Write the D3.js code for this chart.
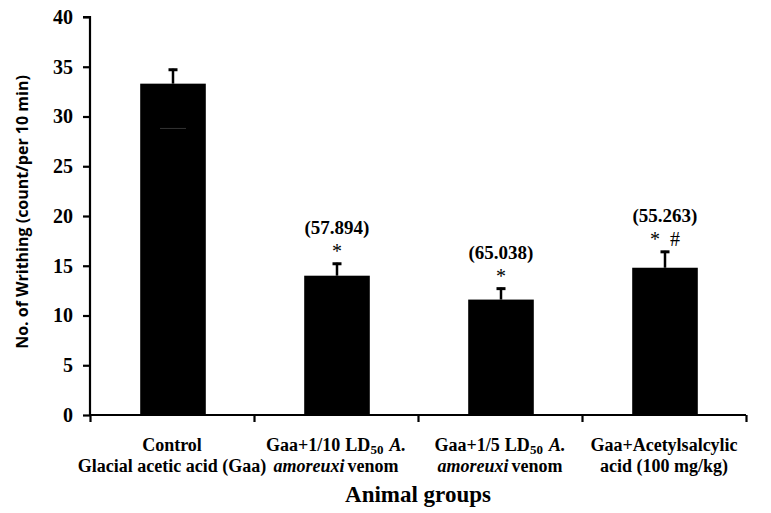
<!DOCTYPE html>
<html>
<head>
<meta charset="utf-8">
<script src="https://cdn.jsdelivr.net/npm/d3@7"></script>
<style>
  body { margin: 0; background: #fff; }
  svg text { fill: #000; }
</style>
</head>
<body>
<svg width="771" height="513"></svg>
<script>
// data
var groups = ["Control", "Gaa+1/10 LD50", "Gaa+1/5 LD50", "Gaa+ASA"];
var means = [33.3, 14.0, 11.6, 14.8];
var errors = [1.5, 1.3, 1.2, 1.7];
var inhibition = ["", "(57.894)", "(65.038)", "(55.263)"];
var marks = ["", "*", "*", "*  #"];
var yTicks = [0, 5, 10, 15, 20, 25, 30, 35, 40];

// label lines, each as [text, italic, subscript, extra gap] segments
var labelLines = [
    [[["Control"]], [["Glacial acetic acid (Gaa)"]]],
    [[["Gaa+1/10"], ["LD", 0, 0, 5], ["50", 0, 1], ["A.", 1, 0, 6]], [["amoreuxi", 1], ["venom", 0, 0, 3]]],
    [[["Gaa+1/5"], ["LD", 0, 0, 5], ["50", 0, 1], ["A.", 1, 0, 6]], [["amoreuxi", 1], ["venom", 0, 0, 3]]],
    [[["Gaa+Acetylsalcylic"]], [["acid (100 mg/kg)"]]]
];

var svg = d3.select("svg"),
    margin = { top: 17, right: 25, bottom: 98, left: 90 },
    width = +svg.attr("width") - margin.left - margin.right,
    height = +svg.attr("height") - margin.top - margin.bottom;

var serif = "'Liberation Serif', 'Times New Roman', serif";

var g = svg.append("g").attr("transform", "translate(" + margin.left + "," + margin.top + ")");

var x = d3.scaleBand().domain(groups).range([0, width]).padding(0);
var xEdge = d3.scaleLinear().domain([0, groups.length]).range([0, width]);
var y = d3.scaleLinear().domain([0, 40]).range([height, 0]);
var barW = x.bandwidth() * 0.4;

// bars
g.selectAll(".bar")
    .data(means)
    .enter().append("rect")
    .attr("class", "bar")
    .attr("x", function (d, i) { return x(groups[i]) + x.bandwidth() / 2 - barW / 2 + 1; })
    .attr("y", function (d) { return y(d); })
    .attr("width", barW)
    .attr("height", function (d) { return height - y(d); })
    .attr("fill", "#000");

// error bars (upper)
var eb = g.selectAll(".err")
    .data(means)
    .enter().append("g")
    .attr("class", "err")
    .attr("transform", function (d, i) { return "translate(" + (x(groups[i]) + x.bandwidth() / 2 + 1) + ",0)"; });

eb.append("line")
    .attr("y1", function (d) { return y(d); })
    .attr("y2", function (d, i) { return y(d + errors[i]); })
    .attr("stroke", "#000")
    .attr("stroke-width", 2.5);

eb.append("line")
    .attr("x1", -4.5).attr("x2", 4.5)
    .attr("y1", function (d, i) { return y(d + errors[i]) + 1; })
    .attr("y2", function (d, i) { return y(d + errors[i]) + 1; })
    .attr("stroke", "#000")
    .attr("stroke-width", 3);

// faint lower whisker visible inside the control bar
eb.filter(function (d, i) { return i === 0; })
    .append("line")
    .attr("x1", -13).attr("x2", 13)
    .attr("y1", function (d) { return y(d - 4.5); })
    .attr("y2", function (d) { return y(d - 4.5); })
    .attr("stroke", "#333")
    .attr("stroke-width", 1);

// annotations
eb.append("text")
    .attr("y", function (d, i) { return y(d + errors[i]) - 29; })
    .attr("text-anchor", "middle")
    .style("font-family", serif)
    .style("font-weight", "bold")
    .style("font-size", "19px")
    .text(function (d, i) { return inhibition[i]; });

eb.append("text")
    .attr("y", function (d, i) { return y(d + errors[i]) - 5; })
    .attr("text-anchor", "middle")
    .attr("xml:space", "preserve")
    .style("font-family", serif)
    .style("font-size", "20px")
    .style("white-space", "pre")
    .text(function (d, i) { return marks[i]; });

// y axis
var yAxis = g.append("g")
    .call(d3.axisLeft(y).tickValues(yTicks).tickSize(7).tickPadding(10));
yAxis.select(".domain").attr("stroke-width", 2.2).attr("d", "M0," + height + "V0H-7");
yAxis.selectAll(".tick line").attr("stroke-width", 2.2);
yAxis.selectAll(".tick text")
    .style("font-family", serif)
    .style("font-weight", "bold")
    .style("font-size", "20px");

// x axis with ticks between groups
var xAxis = g.append("g")
    .attr("transform", "translate(0," + height + ")")
    .call(d3.axisBottom(xEdge).tickValues(d3.range(groups.length + 1)).tickSize(7).tickFormat(""));
xAxis.select(".domain").attr("stroke-width", 2.2).attr("d", "M0,0H" + width);
xAxis.selectAll(".tick line").attr("stroke-width", 2.2);

// group labels, one text per line
labelLines.forEach(function (lines, i) {
    lines.forEach(function (segs, li) {
        var t = g.append("text")
            .attr("class", "glabel")
            .attr("x", x(groups[i]) + x.bandwidth() / 2)
            .attr("y", height + 36 + li * 21)
            .attr("text-anchor", "middle")
            .style("font-family", serif)
            .style("font-weight", "bold")
            .style("font-size", "18px");
        var prevSub = false;
        segs.forEach(function (s) {
            var ts = t.append("tspan").text(s[0]);
            if (s[1]) ts.style("font-style", "italic");
            if (s[3]) ts.attr("dx", s[3]);
            if (s[2]) ts.attr("dy", 3).style("font-size", "13px");
            else if (prevSub) ts.attr("dy", -3);
            prevSub = !!s[2];
        });
    });
});

// axis titles
g.append("text")
    .attr("x", width / 2)
    .attr("y", height + 87)
    .attr("text-anchor", "middle")
    .style("font-family", serif)
    .style("font-weight", "bold")
    .style("font-size", "23px")
    .text("Animal groups");

svg.append("text")
    .attr("transform", "translate(28,212) rotate(-90)")
    .attr("text-anchor", "middle")
    .style("font-family", "'Open Sans', 'Liberation Sans', sans-serif")
    .style("font-weight", "bold")
    .style("font-size", "16px")
    .text("No. of Writhing (count/per 10 min)");
</script>
</body>
</html>
